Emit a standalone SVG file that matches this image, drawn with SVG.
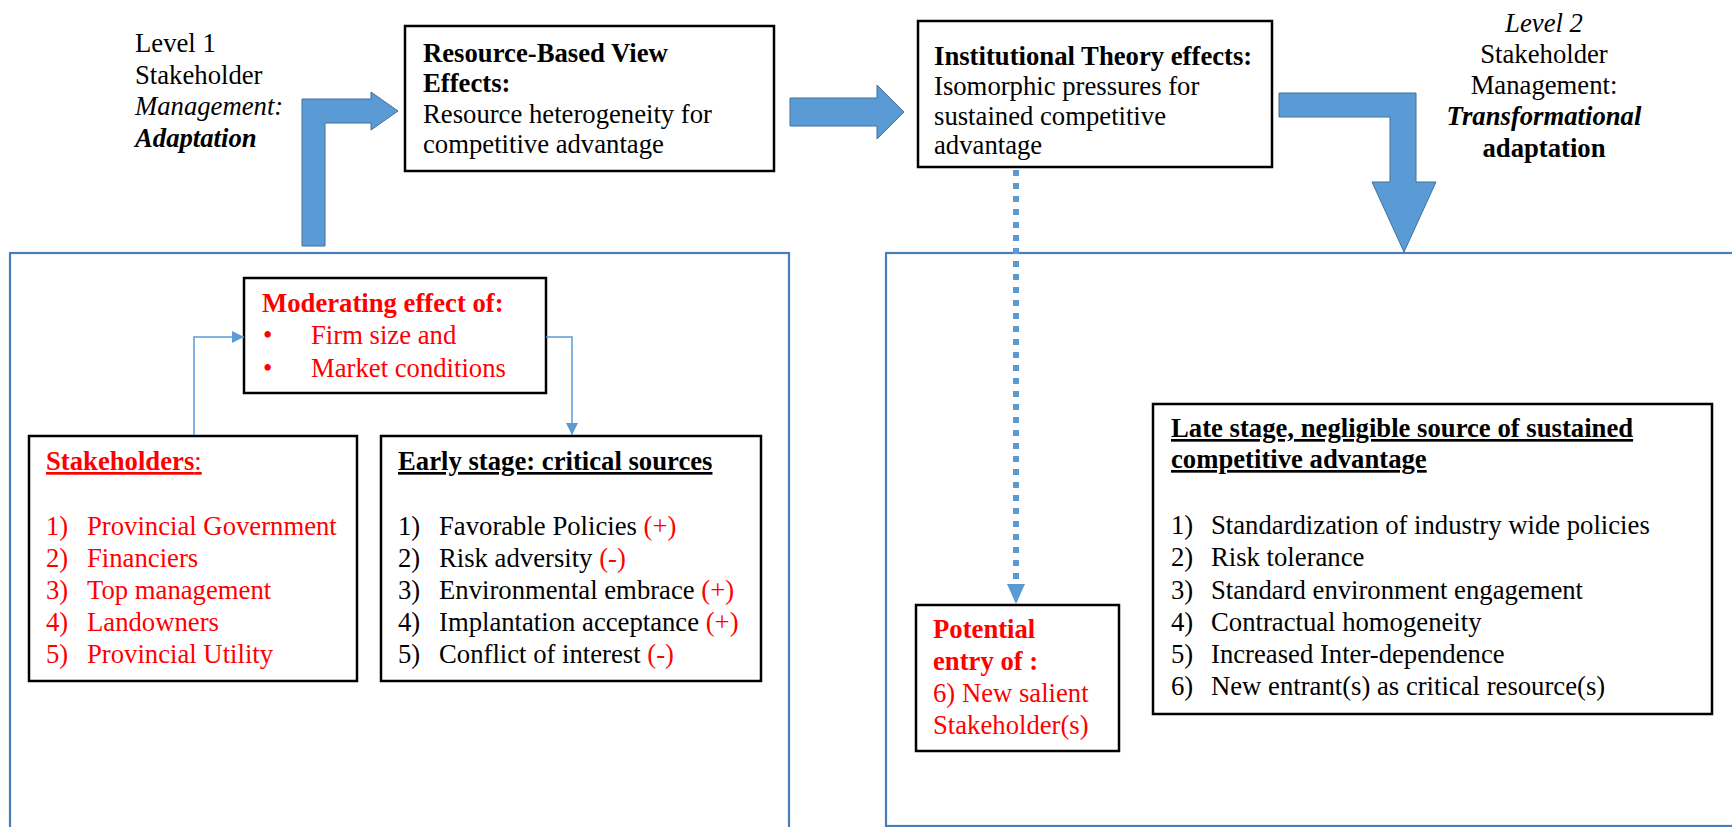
<svg xmlns="http://www.w3.org/2000/svg" width="1732" height="827" viewBox="0 0 1732 827">
<style>
  text { font-family: "Liberation Serif", "Times New Roman", serif; font-size: 26.7px; fill: #000; }
  .b { font-weight: bold; }
  .i { font-style: italic; }
  .r { fill: #FF0000; }
  .u { text-decoration: underline; }
  .box { fill: #fff; stroke: #000; stroke-width: 2.5; }
  .frame { fill: none; stroke: #4A7EBB; stroke-width: 2.2; }
  .blk { fill: #5B9BD5; stroke: #41719C; stroke-width: 1; }
  .conn { fill: none; stroke: #5B9BD5; stroke-width: 1.5; }
  .dot { fill: none; stroke: #5B9BD5; stroke-width: 6; stroke-dasharray: 6 7; }
  .c { text-anchor: middle; }
</style>
<defs>
  <marker id="ah" viewBox="0 0 12 12" refX="12" refY="6" markerWidth="12" markerHeight="12" markerUnits="userSpaceOnUse" orient="auto">
    <path d="M0,0 L12,6 L0,12 Z" fill="#5B9BD5"/>
  </marker>
</defs>

<g id="frame-left"><rect class="frame" x="10" y="253" width="779" height="600"/></g>
<g id="frame-right"><rect class="frame" x="886" y="253" width="870" height="573"/></g>

<g id="level1">
  <text x="135" y="52">Level 1</text>
  <text x="135" y="84">Stakeholder</text>
  <text x="135" y="115" class="i">Management:</text>
  <text x="135" y="147" class="b i">Adaptation</text>
</g>

<g id="level2">
  <text x="1544" y="32" class="c i">Level 2</text>
  <text x="1544" y="63" class="c">Stakeholder</text>
  <text x="1544" y="94" class="c">Management:</text>
  <text x="1544" y="125" class="c b i">Transformational</text>
  <text x="1544" y="157" class="c b">adaptation</text>
</g>

<g id="rbv">
  <rect class="box" x="405" y="26" width="369" height="145"/>
  <text x="423" y="62" class="b">Resource-Based View</text>
  <text x="423" y="92" class="b">Effects:</text>
  <text x="423" y="123">Resource heterogeneity for</text>
  <text x="423" y="153">competitive advantage</text>
</g>

<g id="institutional">
  <rect class="box" x="918" y="21" width="354" height="146"/>
  <text x="934" y="65" class="b">Institutional Theory effects:</text>
  <text x="934" y="95">Isomorphic pressures for</text>
  <text x="934" y="125">sustained competitive</text>
  <text x="934" y="154">advantage</text>
</g>

<g id="moderating">
  <rect class="box" x="244" y="278" width="302" height="115"/>
  <text x="262" y="312" class="b r">Moderating effect of:</text>
  <text x="263" y="344" class="r">•</text>
  <text x="311" y="344" class="r">Firm size and</text>
  <text x="263" y="377" class="r">•</text>
  <text x="311" y="377" class="r">Market conditions</text>
</g>

<g id="stakeholders">
  <rect class="box" x="29" y="436" width="328" height="245"/>
  <text x="46" y="470" class="r u"><tspan class="b r">Stakeholders</tspan>:</text>
  <text x="46" y="535" class="r">1)</text><text x="87" y="535" class="r">Provincial Government</text>
  <text x="46" y="567" class="r">2)</text><text x="87" y="567" class="r">Financiers</text>
  <text x="46" y="599" class="r">3)</text><text x="87" y="599" class="r">Top management</text>
  <text x="46" y="631" class="r">4)</text><text x="87" y="631" class="r">Landowners</text>
  <text x="46" y="663" class="r">5)</text><text x="87" y="663" class="r">Provincial Utility</text>
</g>

<g id="early">
  <rect class="box" x="381" y="436" width="380" height="245"/>
  <text x="398" y="470" class="b u">Early stage: critical sources</text>
  <text x="398" y="535">1)</text><text x="439" y="535">Favorable Policies <tspan class="r">(+)</tspan></text>
  <text x="398" y="567">2)</text><text x="439" y="567">Risk adversity <tspan class="r">(-)</tspan></text>
  <text x="398" y="599">3)</text><text x="439" y="599">Environmental embrace <tspan class="r">(+)</tspan></text>
  <text x="398" y="631">4)</text><text x="439" y="631">Implantation acceptance <tspan class="r">(+)</tspan></text>
  <text x="398" y="663">5)</text><text x="439" y="663">Conflict of interest <tspan class="r">(-)</tspan></text>
</g>

<g id="potential">
  <rect class="box" x="916" y="605" width="203" height="146"/>
  <text x="933" y="638" class="b r">Potential</text>
  <text x="933" y="670" class="b r">entry of :</text>
  <text x="933" y="702" class="r">6) New salient</text>
  <text x="933" y="734" class="r">Stakeholder(s)</text>
</g>

<g id="late">
  <rect class="box" x="1153" y="404" width="559" height="310"/>
  <text x="1171" y="437" class="b u">Late stage, negligible source of sustained</text>
  <text x="1171" y="468" class="b u">competitive advantage</text>
  <text x="1171" y="534">1)</text><text x="1211" y="534">Standardization of industry wide policies</text>
  <text x="1171" y="566">2)</text><text x="1211" y="566">Risk tolerance</text>
  <text x="1171" y="599">3)</text><text x="1211" y="599">Standard environment engagement</text>
  <text x="1171" y="631">4)</text><text x="1211" y="631">Contractual homogeneity</text>
  <text x="1171" y="663">5)</text><text x="1211" y="663">Increased Inter-dependence</text>
  <text x="1171" y="695">6)</text><text x="1211" y="695">New entrant(s) as critical  resource(s)</text>
</g>

<g id="connectors">
  <polygon class="blk" points="302,246 302,99 371,99 371,92 398,111 371,130 371,123 325,123 325,246"/>
  <polygon class="blk" points="790,98 877,98 877,85 904,112 877,139 877,126 790,126"/>
  <polygon class="blk" points="1279,93 1416,93 1416,182 1436,182 1404,252 1372,182 1390,182 1390,117 1279,117"/>
  <line class="dot" x1="1016" y1="170" x2="1016" y2="585"/>
  <polygon points="1007,584 1025,584 1016,604" fill="#5B9BD5"/>
  <polyline class="conn" points="194,435 194,337 244,337" marker-end="url(#ah)"/>
  <polyline class="conn" points="546,337 572,337 572,435" marker-end="url(#ah)"/>
</g>
</svg>
